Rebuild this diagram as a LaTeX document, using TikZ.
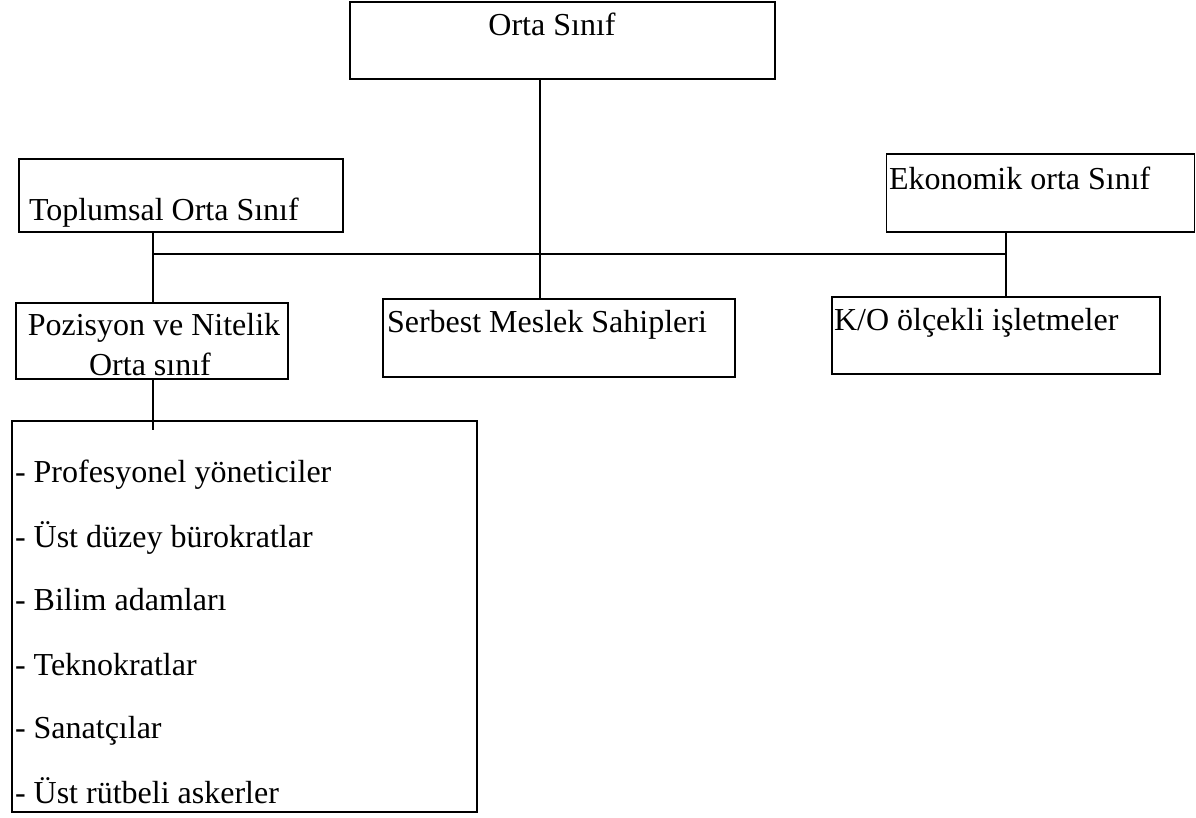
\documentclass[tikz,border=0pt]{standalone}
\usepackage{fontspec}
\setmainfont{Liberation Serif}
\begin{document}
\begin{tikzpicture}[x=1pt,y=-1pt,
  box/.style={draw=black,line width=1.3pt,inner sep=0pt,outer sep=0pt},
  lbl/.style={inner sep=0pt,outer sep=0pt,font=\fontsize{32}{38}\selectfont},
  link/.style={draw=black,line width=1.3pt}]
\useasboundingbox (0,0) rectangle (1196,818);

% boxes, placed by centre and size
\node[box,minimum width=425pt,minimum height=77pt] (orta) at (562.5,40.5) {};
\node[box,minimum width=324pt,minimum height=73pt] (toplum) at (181,195.5) {};
\node[box,minimum width=308pt,minimum height=78pt] (ekon) at (1040.5,193) {};
\node[box,minimum width=272pt,minimum height=76pt] (poz) at (152,341) {};
\node[box,minimum width=352pt,minimum height=78pt] (serbest) at (559,338) {};
\node[box,minimum width=328pt,minimum height=77pt] (ko) at (996,335.5) {};
\node[box,minimum width=465pt,minimum height=391pt] (liste) at (244.5,616.5) {};

% box texts
\node[lbl,anchor=base] (tOrta) at (552,36) {Orta Sınıf};
\node[lbl,anchor=base west] (tToplum) at (29,221) {Toplumsal Orta Sınıf};
\node[lbl,anchor=base west] (tEkon) at (889,190) {Ekonomik orta Sınıf};
\node[lbl,anchor=base] (tPoz1) at (154,335) {Pozisyon ve Nitelik};
\node[lbl,anchor=base] (tPoz2) at (150,375) {Orta sınıf};
\node[lbl,anchor=base west] (tSerbest) at (387,332) {Serbest Meslek Sahipleri};
\node[lbl,anchor=base west] (tKo) at (834,330) {K/O ölçekli işletmeler};

% list of groups
\node[lbl,anchor=base west] (i1) at (15,482) {- Profesyonel yöneticiler};
\node[lbl,anchor=base west] (i2) at (15,547) {- Üst düzey bürokratlar};
\node[lbl,anchor=base west] (i3) at (15,610) {- Bilim adamları};
\node[lbl,anchor=base west] (i4) at (15,675) {- Teknokratlar};
\node[lbl,anchor=base west] (i5) at (15,738) {- Sanatçılar};
\node[lbl,anchor=base west] (i6) at (15,803) {- Üst rütbeli askerler};

% connectors
\coordinate (bus) at (0,254);
\coordinate (mid) at ([xshift=-22.5pt]orta.south);
\coordinate (left) at ([xshift=-28pt]toplum.south);
\coordinate (right) at ([xshift=-34.5pt]ekon.south);

\draw[link] (mid) -- (mid |- serbest.north);
\draw[link] (left) -- (left |- poz.north);
\draw[link] (right) -- (right |- ko.north);
\draw[link] (left |- bus) -- (right |- bus);
\draw[link] ([xshift=1pt]poz.south) -- ([xshift=1pt,yshift=-9pt]poz.south |- liste.north);
\end{tikzpicture}
\end{document}
